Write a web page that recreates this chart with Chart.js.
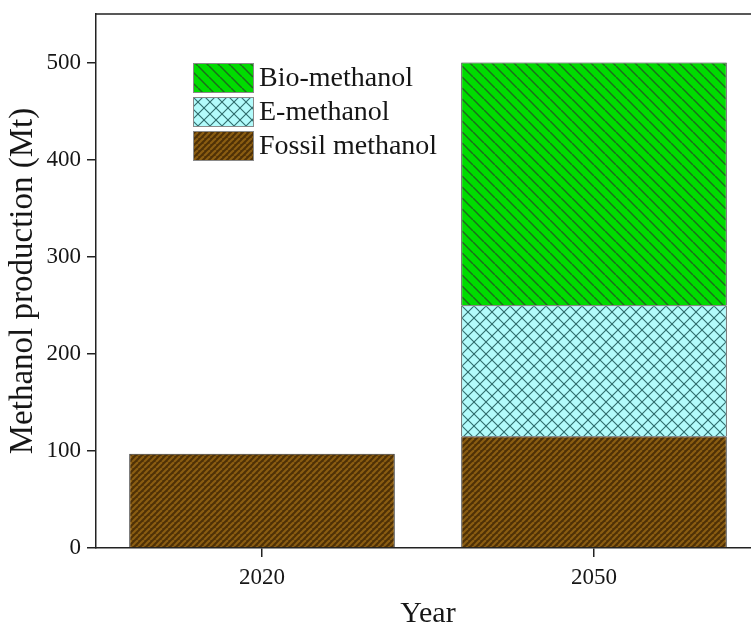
<!DOCTYPE html>
<html>
<head>
<meta charset="utf-8">
<script src="https://cdn.jsdelivr.net/npm/chart.js@4.4.1/dist/chart.umd.min.js"></script>
<style>
  html, body { margin: 0; padding: 0; background: #fff; overflow: hidden; }
  #wrap { width: 764px; height: 628px; }
</style>
</head>
<body>
<div id="wrap"><canvas id="c" width="764" height="628"></canvas></div>
<script>
// Methanol production by route (Mt)
const years = ['2020', '2050'];
const fossilMethanol = [97, 115];
const eMethanol = [null, 135];
const bioMethanol = [null, 250];
const yTickValues = [0, 100, 200, 300, 400, 500];

const SERIF = '"Liberation Serif", "Times New Roman", serif';

// Hatched fills built on small tiles
function hatch(size, bg, fg, width, dirs) {
  const t = document.createElement('canvas');
  t.width = size; t.height = size;
  const g = t.getContext('2d');
  g.fillStyle = bg;
  g.fillRect(0, 0, size, size);
  g.strokeStyle = fg;
  g.lineWidth = width;
  dirs.forEach(d => {
    for (let k = -1; k <= 1; k++) {
      g.beginPath();
      if (d === '/') {
        g.moveTo(k * size, size);
        g.lineTo(k * size + size, 0);
      } else {
        g.moveTo(k * size, 0);
        g.lineTo(k * size + size, size);
      }
      g.stroke();
    }
  });
  return g.createPattern(t, 'repeat');
}

const ctx = document.getElementById('c').getContext('2d');
const fossilFill = hatch(6, '#4f3106', '#8a5d12', 2.2, ['/']);
const eFill = hatch(12, '#b2fbfb', '#2e6b6b', 1.1, ['/', '\\']);
const bioFill = hatch(11, '#00dc00', '#1c6e1c', 1.5, ['\\']);

// Top and right frame lines of the plot box
const frame = {
  id: 'frame',
  afterDraw(chart) {
    const { ctx, chartArea: a } = chart;
    ctx.save();
    ctx.strokeStyle = '#222';
    ctx.lineWidth = 1.5;
    ctx.beginPath();
    ctx.moveTo(a.left, a.top);
    ctx.lineTo(a.right, a.top);
    ctx.lineTo(a.right, a.bottom);
    ctx.stroke();
    ctx.restore();
  }
};

// Boxed legend inside the plot, listed from top of the stack down
const boxLegend = {
  id: 'boxLegend',
  afterDraw(chart) {
    const { ctx } = chart;
    const sets = chart.data.datasets.slice().reverse();
    const x = 193, y0 = 63, w = 61, h = 30, step = 34;
    ctx.save();
    ctx.font = '28px ' + SERIF;
    ctx.textBaseline = 'middle';
    sets.forEach((ds, i) => {
      const y = y0 + i * step;
      ctx.fillStyle = ds.backgroundColor;
      ctx.fillRect(x, y, w, h);
      ctx.strokeStyle = '#8a8a8a';
      ctx.lineWidth = 1;
      ctx.strokeRect(x + 0.5, y + 0.5, w - 1, h - 1);
      ctx.fillStyle = '#161616';
      ctx.fillText(ds.label, x + w + 5, y + h / 2 + 1);
    });
    ctx.restore();
  }
};

new Chart(ctx, {
  type: 'bar',
  data: {
    labels: years,
    datasets: [
      { label: 'Fossil methanol', data: fossilMethanol, backgroundColor: fossilFill },
      { label: 'E-methanol', data: eMethanol, backgroundColor: eFill },
      { label: 'Bio-methanol', data: bioMethanol, backgroundColor: bioFill }
    ]
  },
  options: {
    responsive: false,
    animation: false,
    layout: { padding: { top: 14, right: 4, left: 0, bottom: 0 } },
    datasets: {
      bar: {
        categoryPercentage: 1.0,
        barPercentage: 0.8,
        borderColor: '#333',
        borderWidth: 1
      }
    },
    plugins: {
      legend: { display: false },
      tooltip: { enabled: false }
    },
    scales: {
      x: {
        stacked: true,
        afterFit(s) { s.height = 80; },
        grid: {
          display: true,
          offset: false,
          drawOnChartArea: false,
          drawTicks: true,
          tickLength: 9,
          color: '#222',
          lineWidth: 1.5
        },
        border: { display: true, color: '#222', width: 1.5 },
        ticks: {
          color: '#161616',
          font: { family: SERIF, size: 23 },
          padding: 7
        },
        title: {
          display: true,
          text: 'Year',
          color: '#161616',
          font: { family: SERIF, size: 30 },
          padding: { top: 0, bottom: -4 }
        }
      },
      y: {
        stacked: true,
        min: 0,
        max: 550,
        afterFit(s) {
          s.width = 96;
          s.paddingTop = 0;
          s.paddingBottom = 0;
        },
        afterBuildTicks(s) {
          s.ticks = yTickValues.map(v => ({ value: v }));
        },
        grid: {
          display: true,
          drawOnChartArea: false,
          drawTicks: true,
          tickLength: 9,
          color: '#222',
          lineWidth: 1.5
        },
        border: { display: true, color: '#222', width: 1.5 },
        ticks: {
          color: '#161616',
          font: { family: SERIF, size: 23 },
          padding: 6
        },
        title: {
          display: true,
          text: 'Methanol production (Mt)',
          color: '#161616',
          font: { family: SERIF, size: 33 },
          padding: { top: 4, bottom: 0 }
        }
      }
    }
  },
  plugins: [frame, boxLegend]
});
</script>
</body>
</html>
